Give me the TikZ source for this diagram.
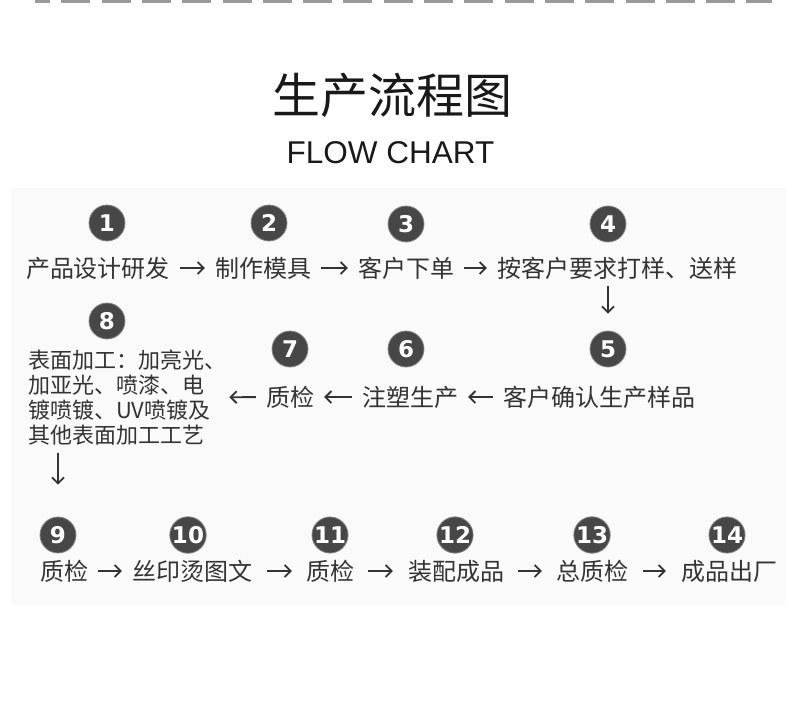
\documentclass[tikz,border=0pt]{standalone}
\usepackage{fontspec}
\usetikzlibrary{arrows.meta}
\setmainfont{Noto Sans CJK SC}
\newfontfamily\numfont{DejaVu Sans}
\newfontfamily\latinfont{Liberation Sans}
\definecolor{numgray}{HTML}{474747}
\definecolor{txtgray}{HTML}{333333}
\definecolor{boxgray}{HTML}{FAFAFA}
\definecolor{dashgray}{HTML}{9A9A9A}

\tikzset{% flow chart styles
  numdot/.style ={circle, fill=numgray, draw=numgray!65, line width=0.8pt,
    text=white, minimum size=36pt, inner sep=0pt,
    font=\numfont\bfseries\fontsize{23}{23}\selectfont},
  stage/.style={inner sep=0pt, text=txtgray, font=\fontsize{24}{28}\selectfont},
  flow/.style={draw=txtgray, line width=1.8pt, -{Straight Barb[length=6pt,width=12pt]},
    shorten <=10pt, shorten >=10pt},
}

\begin{document}
\begin{tikzpicture}[x=1pt,y=-1pt]
  \useasboundingbox (0,0) rectangle (790,701);
  \draw[dashgray, line width=3pt, dash pattern=on 29pt off 11.3pt, dash phase=14pt] (35,1.5) -- (772,1.5);
  \fill[boxgray] (11,188) rectangle (786,605);
  \node[text=black!90, font=\fontsize{48}{52}\selectfont] (title) at (392.5,95) {生产流程图};
  \node[text=black!90, font=\latinfont\fontsize{31.5}{34}\selectfont] (subtitle) at (390.5,152.5) {FLOW CHART};
  % numbers
  \node[numdot] (n1) at (107,223) {1};
  \node[numdot] (n2) at (269,223) {2};
  \node[numdot] (n3) at (406,224) {3};
  \node[numdot] (n4) at (608,224) {4};
  \node[numdot] (n5) at (608,349) {5};
  \node[numdot] (n6) at (406,349) {6};
  \node[numdot] (n7) at (290,349) {7};
  \node[numdot] (n8) at (107,321) {8};
  \node[numdot] (n9) at (58,535) {9};
  \node[numdot] (n10) at (188,535) {10};
  \node[numdot] (n11) at (330,535) {11};
  \node[numdot] (n12) at (455,535) {12};
  \node[numdot] (n13) at (592,535) {13};
  \node[numdot] (n14) at (727,535) {14};
  % steps
  \node[stage] (s1) at (98,268) {产品设计研发};
  \node[stage] (s2) at (263,268) {制作模具};
  \node[stage] (s3) at (406,268) {客户下单};
  \node[stage] (s4) at (617,268) {按客户要求打样、送样};
  \node[stage] (s5) at (599,397) {客户确认生产样品};
  \node[stage] (s6) at (410,397) {注塑生产};
  \node[stage] (s7) at (290,397) {质检};
  \node[stage, anchor=west, align=left, font=\fontsize{22}{25}\selectfont] (s8) at (28,397.5)
    {表面加工：加亮光、\\加亚光、喷漆、电\\镀喷镀、UV喷镀及\\其他表面加工工艺};
  \node[stage] (s9) at (64,571) {质检};
  \node[stage] (s10) at (192,571) {丝印烫图文};
  \node[stage] (s11) at (330,571) {质检};
  \node[stage] (s12) at (456,571) {装配成品};
  \node[stage] (s13) at (592,571) {总质检};
  \node[stage] (s14) at (729,571) {成品出厂};
  % arrows
  \draw[flow] (s1) -- (s2);
  \draw[flow] (s2) -- (s3);
  \draw[flow] (s3) -- (s4);
  \draw[flow, shorten <=7pt, shorten >=17pt] (s4.south -| n5) -- (n5);
  \draw[flow] (s5) -- (s6);
  \draw[flow] (s6) -- (s7);
  \draw[flow, shorten >=3pt] (s7) -- (s8);
  \draw[flow, shorten <=8pt, shorten >=32pt] (s8.south -| n9) -- (n9);
  \draw[flow] (s9) -- (s10);
  \draw[flow, shorten <=15pt, shorten >=14pt] (s10) -- (s11);
  \draw[flow, shorten <=14pt, shorten >=15pt] (s11) -- (s12);
  \draw[flow, shorten <=14pt, shorten >=14pt] (s12) -- (s13);
  \draw[flow, shorten <=15pt, shorten >=15pt] (s13) -- (s14);
\end{tikzpicture}
\end{document}
